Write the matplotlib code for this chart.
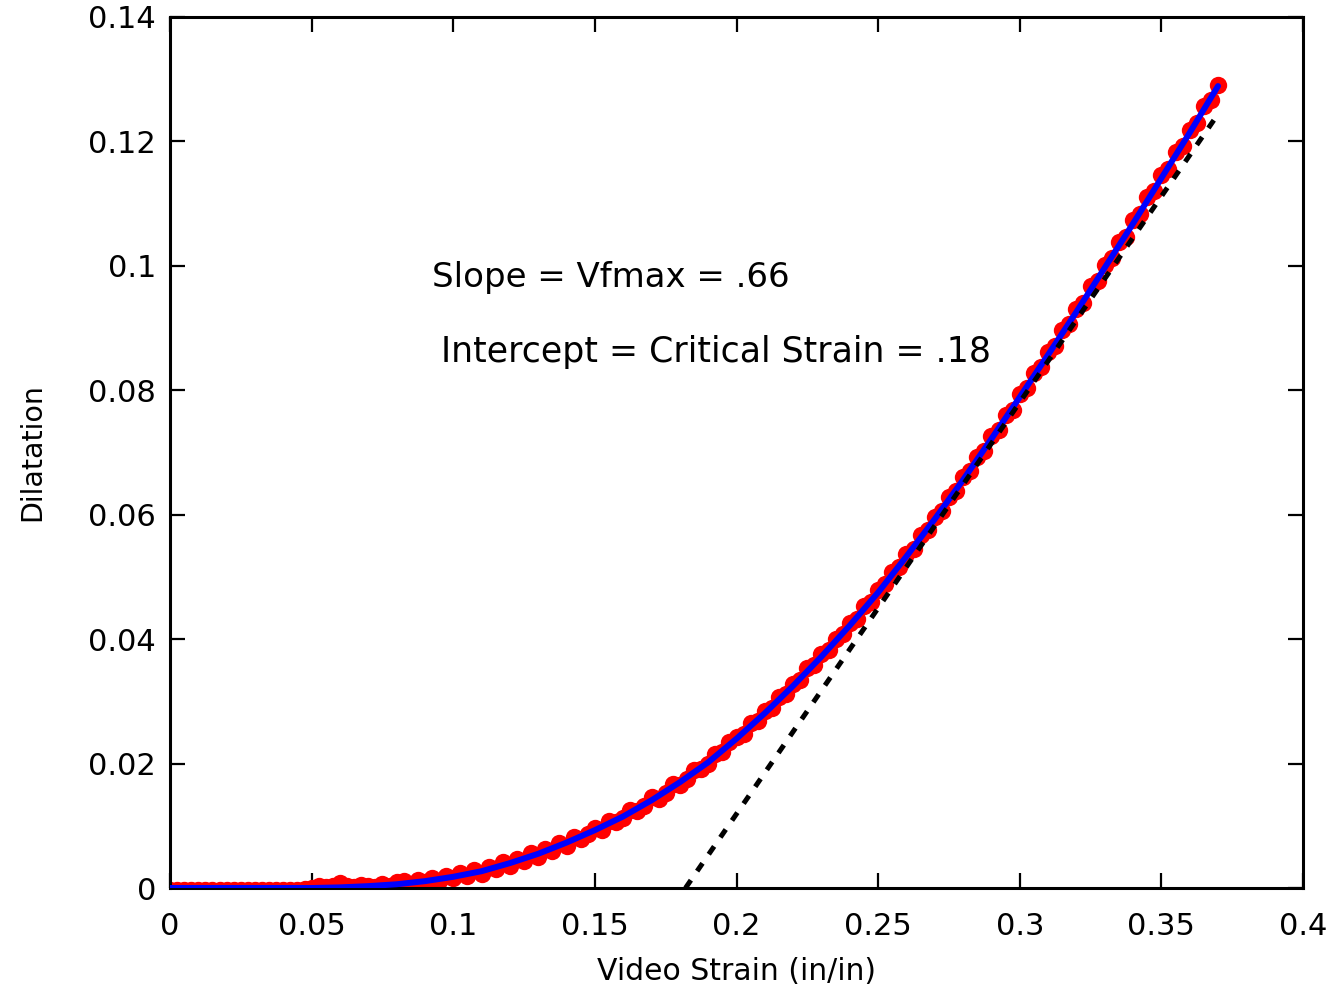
import matplotlib
matplotlib.use("Agg")
import matplotlib.pyplot as plt

# ---------------- data ----------------
red_x = [
    0.0000, 0.0025, 0.0050, 0.0075, 0.0100, 0.0125, 0.0150, 0.0175, 0.0200, 0.0225,
    0.0250, 0.0275, 0.0300, 0.0325, 0.0350, 0.0375, 0.0400, 0.0425, 0.0450, 0.0475,
    0.0500, 0.0525, 0.0550, 0.0575, 0.0600, 0.0625, 0.0650, 0.0675, 0.0700, 0.0725,
    0.0750, 0.0775, 0.0800, 0.0825, 0.0850, 0.0875, 0.0900, 0.0925, 0.0950, 0.0975,
    0.1000, 0.1025, 0.1050, 0.1075, 0.1100, 0.1125, 0.1150, 0.1175, 0.1200, 0.1225,
    0.1250, 0.1275, 0.1300, 0.1325, 0.1350, 0.1375, 0.1400, 0.1425, 0.1450, 0.1475,
    0.1500, 0.1525, 0.1550, 0.1575, 0.1600, 0.1625, 0.1650, 0.1675, 0.1700, 0.1725,
    0.1750, 0.1775, 0.1800, 0.1825, 0.1850, 0.1875, 0.1900, 0.1925, 0.1950, 0.1975,
    0.2000, 0.2025, 0.2050, 0.2075, 0.2100, 0.2125, 0.2150, 0.2175, 0.2200, 0.2225,
    0.2250, 0.2275, 0.2300, 0.2325, 0.2350, 0.2375, 0.2400, 0.2425, 0.2450, 0.2475,
    0.2500, 0.2525, 0.2550, 0.2575, 0.2600, 0.2625, 0.2650, 0.2675, 0.2700, 0.2725,
    0.2750, 0.2775, 0.2800, 0.2825, 0.2850, 0.2875, 0.2900, 0.2925, 0.2950, 0.2975,
    0.3000, 0.3025, 0.3050, 0.3075, 0.3100, 0.3125, 0.3150, 0.3175, 0.3200, 0.3225,
    0.3250, 0.3275, 0.3300, 0.3325, 0.3350, 0.3375, 0.3400, 0.3425, 0.3450, 0.3475,
    0.3500, 0.3525, 0.3550, 0.3575, 0.3600, 0.3625, 0.3650, 0.3675, 0.3700,
]
red_y = [
    -0.0004, -0.0003, -0.0004, -0.0004, -0.0003, -0.0004, -0.0004, -0.0003, -0.0004, -0.0004,
    -0.0003, -0.0004, -0.0004, -0.0003, -0.0004, -0.0004, -0.0003, -0.0004, -0.0003, -0.0002,
    0.0000, 0.0004, 0.0002, 0.0003, 0.0008, 0.0003, 0.0001, 0.0005, 0.0004, 0.0002,
    0.0007, 0.0003, 0.0009, 0.0012, 0.0005, 0.0013, 0.0010, 0.0016, 0.0011, 0.0020,
    0.0016, 0.0024, 0.0019, 0.0029, 0.0023, 0.0034, 0.0030, 0.0041, 0.0036, 0.0047,
    0.0044, 0.0056, 0.0050, 0.0062, 0.0059, 0.0073, 0.0068, 0.0082, 0.0079, 0.0086,
    0.0097, 0.0094, 0.0108, 0.0106, 0.0113, 0.0126, 0.0124, 0.0132, 0.0146, 0.0143,
    0.0153, 0.0167, 0.0166, 0.0175, 0.0190, 0.0191, 0.0199, 0.0215, 0.0218, 0.0234,
    0.0243, 0.0248, 0.0265, 0.0269, 0.0284, 0.0290, 0.0307, 0.0312, 0.0328, 0.0335,
    0.0353, 0.0358, 0.0376, 0.0383, 0.0401, 0.0408, 0.0426, 0.0433, 0.0453, 0.0460,
    0.0479, 0.0488, 0.0508, 0.0516, 0.0537, 0.0545, 0.0567, 0.0576, 0.0597, 0.0606,
    0.0629, 0.0638, 0.0660, 0.0670, 0.0693, 0.0703, 0.0727, 0.0736, 0.0760, 0.0769,
    0.0794, 0.0803, 0.0828, 0.0837, 0.0862, 0.0871, 0.0897, 0.0906, 0.0931, 0.0941,
    0.0967, 0.0976, 0.1002, 0.1012, 0.1038, 0.1047, 0.1073, 0.1083, 0.1110, 0.1120,
    0.1146, 0.1156, 0.1183, 0.1193, 0.1219, 0.1230, 0.1257, 0.1267, 0.1291,
]

fit_x = [0.00, 0.01, 0.02, 0.03, 0.04, 0.05, 0.06, 0.07, 0.08, 0.09,
         0.10, 0.11, 0.12, 0.13, 0.14, 0.15, 0.16, 0.17, 0.18, 0.19,
         0.20, 0.21, 0.22, 0.23, 0.24, 0.25, 0.26, 0.27, 0.28, 0.29,
         0.30, 0.31, 0.32, 0.33, 0.34, 0.35, 0.36, 0.37]
fit_y = [0.0000, 0.0000, 0.0000, 0.0000, 0.0000, 0.0000, 0.0001, 0.0003, 0.0006, 0.0011,
         0.0018, 0.0027, 0.0040, 0.0055, 0.0073, 0.0093, 0.0115, 0.0141, 0.0170, 0.0202,
         0.0240, 0.0281, 0.0325, 0.0372, 0.0422, 0.0475, 0.0533, 0.0593, 0.0656, 0.0722,
         0.0789, 0.0857, 0.0926, 0.0997, 0.1068, 0.1141, 0.1214, 0.1289]

line_x = [0.182, 0.370]
line_y = [0.0, 0.1244]

x_ticks = [0, 0.05, 0.1, 0.15, 0.2, 0.25, 0.3, 0.35, 0.4]
x_tick_labels = ["0", "0.05", "0.1", "0.15", "0.2", "0.25", "0.3", "0.35", "0.4"]
y_ticks = [0, 0.02, 0.04, 0.06, 0.08, 0.1, 0.12, 0.14]
y_tick_labels = ["0", "0.02", "0.04", "0.06", "0.08", "0.1", "0.12", "0.14"]

annotations = ["Slope = Vfmax = .66", "Intercept = Critical Strain = .18"]

# ---------------- plot ----------------
plt.rcParams['font.family'] = ['DejaVu Sans']

fig = plt.figure(figsize=(13.41, 9.91), dpi=100)
ax = fig.add_axes([170 / 1341, 1 - 888 / 991, (1303 - 170) / 1341, (888 - 17) / 991])

ax.plot(red_x, red_y, linestyle='none', marker='o', markersize=12.5,
        color='#ff0000', markeredgewidth=0, zorder=2)
ax.plot(fit_x, fit_y, color='#0000ff', linewidth=4.3, zorder=3,
        solid_capstyle='round')
ax.plot(line_x, line_y, color='black', linewidth=3.6,
        linestyle=(0, (1.9, 2.2)), zorder=4)

ax.set_xlim(0, 0.4)
ax.set_ylim(0, 0.14)
ax.set_xticks(x_ticks)
ax.set_xticklabels(x_tick_labels)
ax.set_yticks(y_ticks)
ax.set_yticklabels(y_tick_labels)

ax.tick_params(direction='in', length=11, width=1.6, labelsize=22,
               top=True, right=True, pad=10)
ax.tick_params(axis='x', pad=17)
for s in ax.spines.values():
    s.set_linewidth(2.2)

ax.set_xlabel("Video Strain (in/in)", fontsize=21.5, labelpad=12)
ax.set_ylabel("Dilatation", fontsize=20.5, labelpad=30)

ax.text(0.0925, 0.0982, annotations[0], fontsize=24.5, va='center', ha='left')
ax.text(0.0957, 0.0862, annotations[1], fontsize=25, va='center', ha='left')

fig.savefig("out.png", dpi=100)
